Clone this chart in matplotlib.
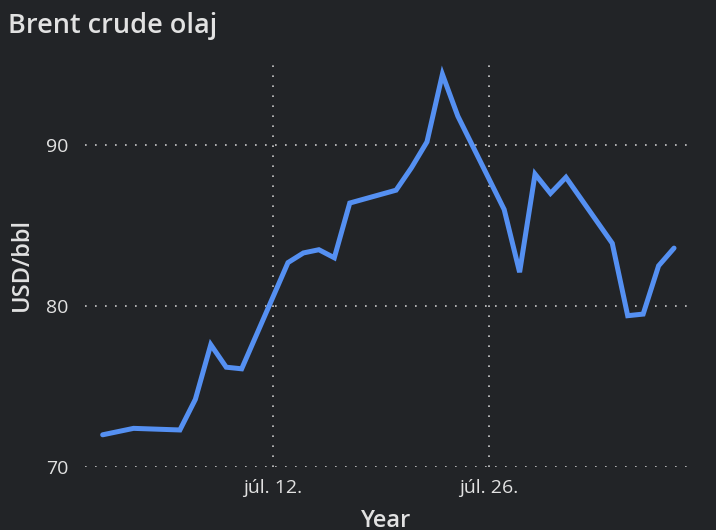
import matplotlib
matplotlib.use('Agg')
import matplotlib.pyplot as plt
import matplotlib.dates as mdates
from matplotlib.ticker import FuncFormatter
import pandas as pd

# Brent prices
dates = ['2023-07-01', '2023-07-03', '2023-07-06', '2023-07-07', '2023-07-08',
         '2023-07-09', '2023-07-10', '2023-07-13', '2023-07-14', '2023-07-15',
         '2023-07-16', '2023-07-17', '2023-07-20', '2023-07-21', '2023-07-22',
         '2023-07-23', '2023-07-24', '2023-07-27', '2023-07-28', '2023-07-29',
         '2023-07-30', '2023-07-31', '2023-08-03', '2023-08-04', '2023-08-05',
         '2023-08-06', '2023-08-07']
prices = [72.0, 72.4, 72.3, 74.2, 77.6,
          76.2, 76.1, 82.7, 83.3, 83.5,
          83.0, 86.4, 87.2, 88.6, 90.2,
          94.4, 91.8, 86.0, 82.1, 88.2,
          87.0, 88.0, 83.9, 79.4, 79.5,
          82.5, 83.6]
tick_dates = ['2023-07-12', '2023-07-26']
hu_months = ['jan.', 'febr.', 'márc.', 'ápr.', 'máj.', 'jún.',
             'júl.', 'aug.', 'szept.', 'okt.', 'nov.', 'dec.']

bg = '#222427'
fg = '#e2e2e2'

plt.rcParams['font.family'] = ['Open Sans', 'DejaVu Sans']

x = pd.to_datetime(dates)
fig = plt.figure(figsize=(7.16, 5.30), dpi=100, facecolor=bg)
ax = fig.add_axes([0.1187, 0.1189, 0.842, 0.764])
ax.set_facecolor(bg)

ax.plot(x, prices, color='#5590f2', linewidth=3.6, solid_capstyle='round',
        solid_joinstyle='miter')

ax.set_xlim(pd.Timestamp('2023-07-01') - pd.Timedelta(hours=27.5),
            pd.Timestamp('2023-08-07') + pd.Timedelta(hours=21.5))
ax.set_ylim(70, 95.16)
ax.set_yticks([70, 80, 90])
ax.set_xticks(pd.to_datetime(tick_dates))


def hu_date(v, pos):
    d = mdates.num2date(v)
    return '%s %d.' % (hu_months[d.month - 1], d.day)


ax.xaxis.set_major_formatter(FuncFormatter(hu_date))

for s in ax.spines.values():
    s.set_visible(False)
ax.tick_params(length=0, colors=fg, labelsize=14)
ax.tick_params(axis='y', pad=12)
ax.tick_params(axis='x', pad=9)
ax.grid(True, color='#c8c8c8', linestyle=(0, (1, 5)), linewidth=1.2)

ax.set_ylabel('USD/bbl', color=fg, fontsize=17, fontweight='semibold', labelpad=9)
ax.set_xlabel('Year', color=fg, fontsize=17, fontweight='semibold', labelpad=8)
fig.text(0.011, 0.937, 'Brent crude olaj', color=fg, fontsize=19.5,
         fontweight='semibold', ha='left', va='baseline')

fig.savefig('out.png', dpi=100, facecolor=bg)
